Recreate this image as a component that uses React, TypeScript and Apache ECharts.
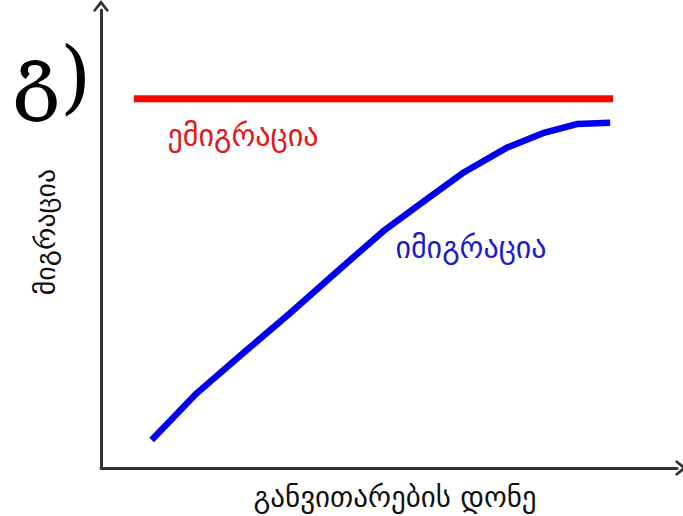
import React, { useEffect, useRef } from "react";
import * as echarts from "echarts";

const immigrationX = [8.8, 16.6, 24.7, 32.8, 40.9, 49.0, 57.1, 62.8, 70.4, 76.7, 82.6, 88.4];
const immigrationY = [6.1, 16.3, 25.1, 33.8, 42.8, 51.7, 59.2, 64.4, 69.9, 73.1, 75.1, 75.4];
const emigrationX = [5.7, 88.9];
const emigrationY = [80.6, 80.6];

const labelEmigration = "ემიგრაცია";
const labelImmigration = "იმიგრაცია";
const yAxisTitle = "მიგრაცია";
const xAxisTitle = "განვითარების დონე";
const panelTag = "გ)";

const arrowPath = "path://M5,0 L10,6.5 L8.8,7.5 L5,3 L1.2,7.5 L0,6.5 Z";
const geoFont = "'DejaVu Sans'";

export default function App() {
  const ref = useRef<HTMLDivElement>(null);
  useEffect(() => {
    const chart = echarts.init(ref.current!, undefined, { renderer: "svg" });
    const axisLine = {
      show: true,
      symbol: ["none", arrowPath],
      symbolSize: [16, 13],
      symbolOffset: [0, 4],
      lineStyle: { color: "#333", width: 3 },
    };
    chart.setOption({
      animation: false,
      backgroundColor: "#fff",
      grid: { left: 101, right: 6, top: 10, bottom: 48 },
      xAxis: {
        type: "value",
        min: 0,
        max: 100,
        axisLine,
        axisTick: { show: false },
        axisLabel: { show: false },
        splitLine: { show: false },
      },
      yAxis: {
        type: "value",
        min: 0,
        max: 100,
        axisLine,
        axisTick: { show: false },
        axisLabel: { show: false },
        splitLine: { show: false },
      },
      series: [
        {
          type: "line",
          name: labelEmigration,
          data: emigrationX.map((x, i) => [x, emigrationY[i]]),
          showSymbol: false,
          lineStyle: { color: "#ff0000", width: 7, cap: "butt" },
        },
        {
          type: "line",
          name: labelImmigration,
          data: immigrationX.map((x, i) => [x, immigrationY[i]]),
          showSymbol: false,
          smooth: false,
          lineStyle: { color: "#0000ee", width: 6.5, cap: "butt", join: "round" },
        },
      ],
      graphic: [
        {
          type: "text",
          x: 243,
          y: 135,
          style: {
            text: labelEmigration,
            fill: "#e81515",
            font: `30px ${geoFont}`,
            align: "center",
            verticalAlign: "middle",
          },
        },
        {
          type: "text",
          x: 471,
          y: 247,
          style: {
            text: labelImmigration,
            fill: "#1a1ad0",
            font: `30px ${geoFont}`,
            align: "center",
            verticalAlign: "middle",
          },
        },
        {
          type: "text",
          x: 45,
          y: 232,
          rotation: Math.PI / 2,
          style: {
            text: yAxisTitle,
            fill: "#111",
            font: `28px ${geoFont}`,
            align: "center",
            verticalAlign: "middle",
          },
        },
        {
          type: "text",
          x: 395,
          y: 497,
          style: {
            text: xAxisTitle,
            fill: "#111",
            font: `29px ${geoFont}`,
            align: "center",
            verticalAlign: "middle",
          },
        },
        {
          type: "text",
          x: 52,
          y: 76,
          style: {
            text: panelTag,
            fill: "#000",
            font: "80px 'DejaVu Serif', 'DejaVu Sans'",
            align: "center",
            verticalAlign: "middle",
          },
        },
      ],
    });
    return () => chart.dispose();
  }, []);
  return (
    <div
      ref={ref}
      style={{ position: "fixed", left: 0, top: 0, width: 683, height: 516 }}
    />
  );
}
